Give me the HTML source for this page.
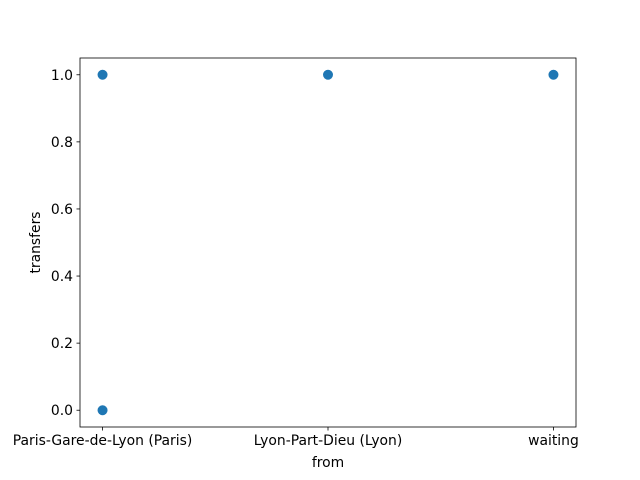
<!DOCTYPE html>
<html><head><meta charset="utf-8"><style>body{margin:0;background:#fff}svg{display:block}text{font-family:"DejaVu Sans","Liberation Sans",sans-serif;font-size:13.9px;fill:#000}</style></head>
<body>
<svg id="chart" width="640" height="480" xmlns="http://www.w3.org/2000/svg">
<rect x="0" y="0" width="640" height="480" fill="#fff"/>
<g id="ticks"></g>
<g id="points"></g>
<rect x="80" y="58" width="496" height="369" fill="none" stroke="#000" stroke-width="0.8"/>
<text x="328" y="467" text-anchor="middle">from</text>
<text transform="translate(40,242.5) rotate(-90)" text-anchor="middle">transfers</text>
</svg>
<script>
const categories = ["Paris-Gare-de-Lyon (Paris)", "Lyon-Part-Dieu (Lyon)", "waiting"];
const pointCats = [0, 0, 1, 2];
const pointVals = [1, 0, 1, 1];
const yTicks = [0, 0.2, 0.4, 0.6, 0.8, 1.0];
const yTickLabels = ["0.0", "0.2", "0.4", "0.6", "0.8", "1.0"];

const NS = "http://www.w3.org/2000/svg";
const L = 80, R = 576, T = 58, B = 427;
const xMin = -0.1, xMax = categories.length - 1 + 0.1;
const yMin = -0.05, yMax = 1.05;
function xs(v){ return L + (v - xMin) / (xMax - xMin) * (R - L); }
function ys(v){ return B - (v - yMin) / (yMax - yMin) * (B - T); }
function mk(tag, attrs){ const e = document.createElementNS(NS, tag); for (const k in attrs) e.setAttribute(k, attrs[k]); return e; }
const tg = document.getElementById("ticks");
categories.forEach((c, i) => {
  const x = xs(i);
  const ln = mk("line", {x1:x, x2:x, y1:B, y2:B+3.5, stroke:"#000", "stroke-width":0.8});
  
  
  tg.appendChild(ln);
  const t = mk("text", {x:x, y:B+18, "text-anchor":"middle"});
  
  
  t.textContent = c; tg.appendChild(t);
});
yTicks.forEach((v, i) => {
  const y = ys(v);
  const ln = mk("line", {x1:L-3.5, x2:L, y1:y, y2:y, stroke:"#000", "stroke-width":0.8});
  
  
  tg.appendChild(ln);
  const t = mk("text", {x:L-7, y:y+5, "text-anchor":"end"});
  
  
  t.textContent = yTickLabels[i]; tg.appendChild(t);
});
const pg = document.getElementById("points");
pointCats.forEach((c, i) => {
  const p = mk("circle", {cx:xs(c), cy:ys(pointVals[i]), r:5, fill:"#1f77b4"});
  
  
  pg.appendChild(p);
});
</script>
</body></html>
